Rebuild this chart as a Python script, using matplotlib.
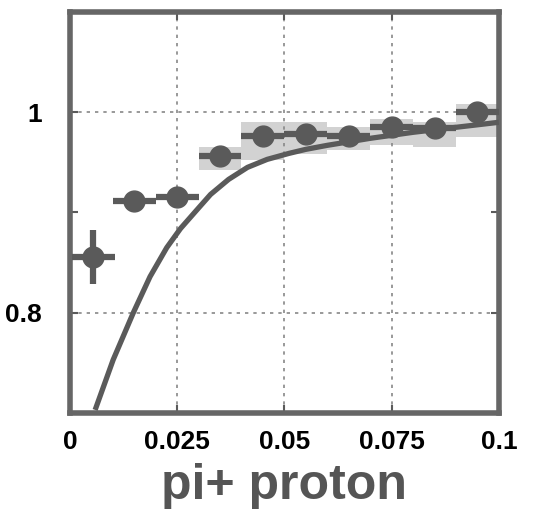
import matplotlib.pyplot as plt
from matplotlib.ticker import FixedLocator

# points
x_pts = [0.0055, 0.015, 0.025, 0.035, 0.045, 0.055, 0.065, 0.075, 0.085, 0.095]
y_pts = [0.856, 0.911, 0.915, 0.956, 0.976, 0.978, 0.976, 0.985, 0.984, 1.0]
x_err = [0.005, 0.005, 0.005, 0.005, 0.005, 0.005, 0.005, 0.005, 0.005, 0.005]
y_err = [0.027, 0.006, 0.008, 0.006, 0.006, 0.006, 0.006, 0.006, 0.006, 0.006]

# courbe
x_curve = [0.0059, 0.0101, 0.0148, 0.0187, 0.0226, 0.0258, 0.0297, 0.0328, 0.037,
           0.0414, 0.046, 0.0511, 0.055, 0.060, 0.070, 0.080, 0.090, 0.100]
y_curve = [0.703, 0.753, 0.800, 0.836, 0.865, 0.884, 0.903, 0.918, 0.933,
           0.945, 0.953, 0.959, 0.963, 0.967, 0.974, 0.980, 0.985, 0.990]

# bande grise
x_band = [0.030, 0.040, 0.050, 0.060, 0.070, 0.080, 0.090, 0.100]
band_hi = [0.965, 0.99, 0.99, 0.985, 0.993, 0.99, 1.008, 1.008]
band_lo = [0.942, 0.952, 0.958, 0.962, 0.967, 0.965, 0.975, 0.975]

grey = '#5a5a5a'

fig = plt.figure(figsize=(5.33, 5.24), dpi=100)
ax = fig.add_axes([0.131, 0.212, 0.805, 0.765])

ax.fill_between(x_band, band_lo, band_hi, step='post', color='#d2d2d2', lw=0, zorder=1)
ax.plot(x_curve, y_curve, color=grey, lw=3.8, zorder=3, solid_capstyle='butt')
ax.errorbar(x_pts, y_pts, xerr=x_err, yerr=y_err, fmt='o', color=grey,
            ms=15, elinewidth=4.5, capsize=0, zorder=4)

ax.set_xlim(0, 0.1)
ax.set_ylim(0.7, 1.1)
ax.set_xticks([0, 0.025, 0.05, 0.075, 0.1])
ax.set_xticklabels(['0', '0.025', '0.05', '0.075', '0.1'])
ax.set_yticks([0.8, 1.0])
ax.set_yticklabels(['0.8', '1'])
ax.yaxis.set_minor_locator(FixedLocator([0.9]))

ax.grid(True, which='major', color='#888888', ls=(0, (2, 3)), lw=1.2)
ax.tick_params(axis='both', which='both', direction='in', length=6, width=1.5,
               color=grey, top=True, right=True, labelsize=19, pad=12)
ax.tick_params(axis='y', pad=20)
for lab in ax.get_xticklabels() + ax.get_yticklabels():
    lab.set_fontweight('bold')
    lab.set_family('Liberation Sans')

for s in ax.spines.values():
    s.set_linewidth(4)
    s.set_color('#666666')

ax.set_xlabel('pi+ proton', fontsize=36, fontweight='bold', color='#555555',
              family='Liberation Sans', labelpad=7)

plt.savefig('out.png', dpi=100)
